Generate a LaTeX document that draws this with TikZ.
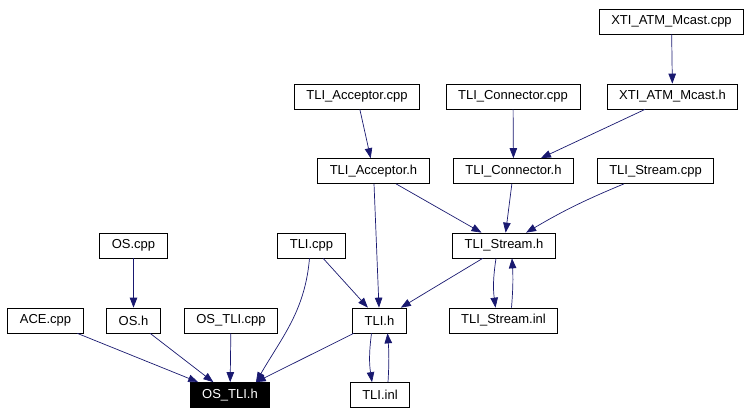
\documentclass[tikz,border=0pt]{standalone}
\usepackage{fontspec}
\setmainfont{Liberation Sans}
\usetikzlibrary{arrows.meta}
\definecolor{edgeblue}{RGB}{25,25,112}

\begin{document}
\begin{tikzpicture}[x=1pt, y=-1pt,
        file/.style = {draw, line width=0.7pt, minimum height=25pt, inner xsep=12pt,
            font=\fontsize{13}{15}\selectfont},
        this/.style = {file, fill=black, text=white},
        dep/.style = {draw=edgeblue, line width=0.7pt,
            -{Triangle[length=10pt, width=7.5pt]}, edgeblue}]
        \useasboundingbox (0, 0) rectangle (754, 415);

        % bottom row
        \node[this] (ostlih) at (230, 395) {OS\_TLI.h};
        \node[file] (tliinl) at (380, 395) {TLI.inl};
        % row above
        \node[file] (acecpp) at (45.5, 320.5) {ACE.cpp};
        \node[file] (osh) at (133.5, 320.5) {OS.h};
        \node[file] (ostlicpp) at (231, 320.5) {OS\_TLI.cpp};
        \node[file] (tlih) at (379.5, 320.5) {TLI.h};
        \node[file] (streaminl) at (503.5, 320.5) {TLI\_Stream.inl};
        \node[file] (oscpp) at (133.5, 245.5) {OS.cpp};
        \node[file] (tlicpp) at (311.5, 245.5) {TLI.cpp};
        \node[file] (streamh) at (504, 245.5) {TLI\_Stream.h};
        \node[file] (acceptorh) at (373.5, 171) {TLI\_Acceptor.h};
        \node[file] (connectorh) at (513.5, 171) {TLI\_Connector.h};
        \node[file] (streamcpp) at (655.5, 171) {TLI\_Stream.cpp};
        \node[file] (acceptorcpp) at (357, 96.5) {TLI\_Acceptor.cpp};
        \node[file] (connectorcpp) at (513, 96.5) {TLI\_Connector.cpp};
        \node[file] (mcasth) at (672.5, 96.5) {XTI\_ATM\_Mcast.h};
        \node[file] (mcastcpp) at (671.5, 21.5) {XTI\_ATM\_Mcast.cpp};

        % who includes OS_TLI.h
        \draw[dep] (acecpp) -- (ostlih);
        \draw[dep] (osh) -- (ostlih);
        \draw[dep] (ostlicpp) -- (ostlih);
        \draw[dep] ([xshift=-2pt]tlicpp.south) to[out=-95, in=60] ([xshift=26pt]ostlih.north);
        \draw[dep] (tlih) -- (ostlih);
        \draw[dep] (oscpp) -- (osh);
        % TLI.h and friends
        \draw[dep] (tlicpp) -- (tlih);
        \draw[dep] (acceptorh) -- (tlih);
        \draw[dep] (streamh) -- (tlih);
        \draw[dep] ([xshift=-8pt]tlih.south) to[bend right=8] ([xshift=-8pt]tliinl.north);
        \draw[dep] ([xshift=8pt]tliinl.north) to[bend right=4] ([xshift=8pt]tlih.south);
        \draw[dep] ([xshift=-8pt]streamh.south) to[bend right=8] ([xshift=-8pt]streaminl.north);
        \draw[dep] ([xshift=8pt]streaminl.north) to[bend right=4] ([xshift=8pt]streamh.south);
        \draw[dep] (acceptorh) -- (streamh);
        \draw[dep] (connectorh) -- (streamh);
        \draw[dep] (streamcpp) to[bend right=4] (streamh);
        % top
        \draw[dep] (acceptorcpp) -- (acceptorh);
        \draw[dep] (connectorcpp) -- (connectorh);
        \draw[dep] (mcasth) -- (connectorh);
        \draw[dep] (mcastcpp) -- (mcasth);
    \end{tikzpicture}
\end{document}
